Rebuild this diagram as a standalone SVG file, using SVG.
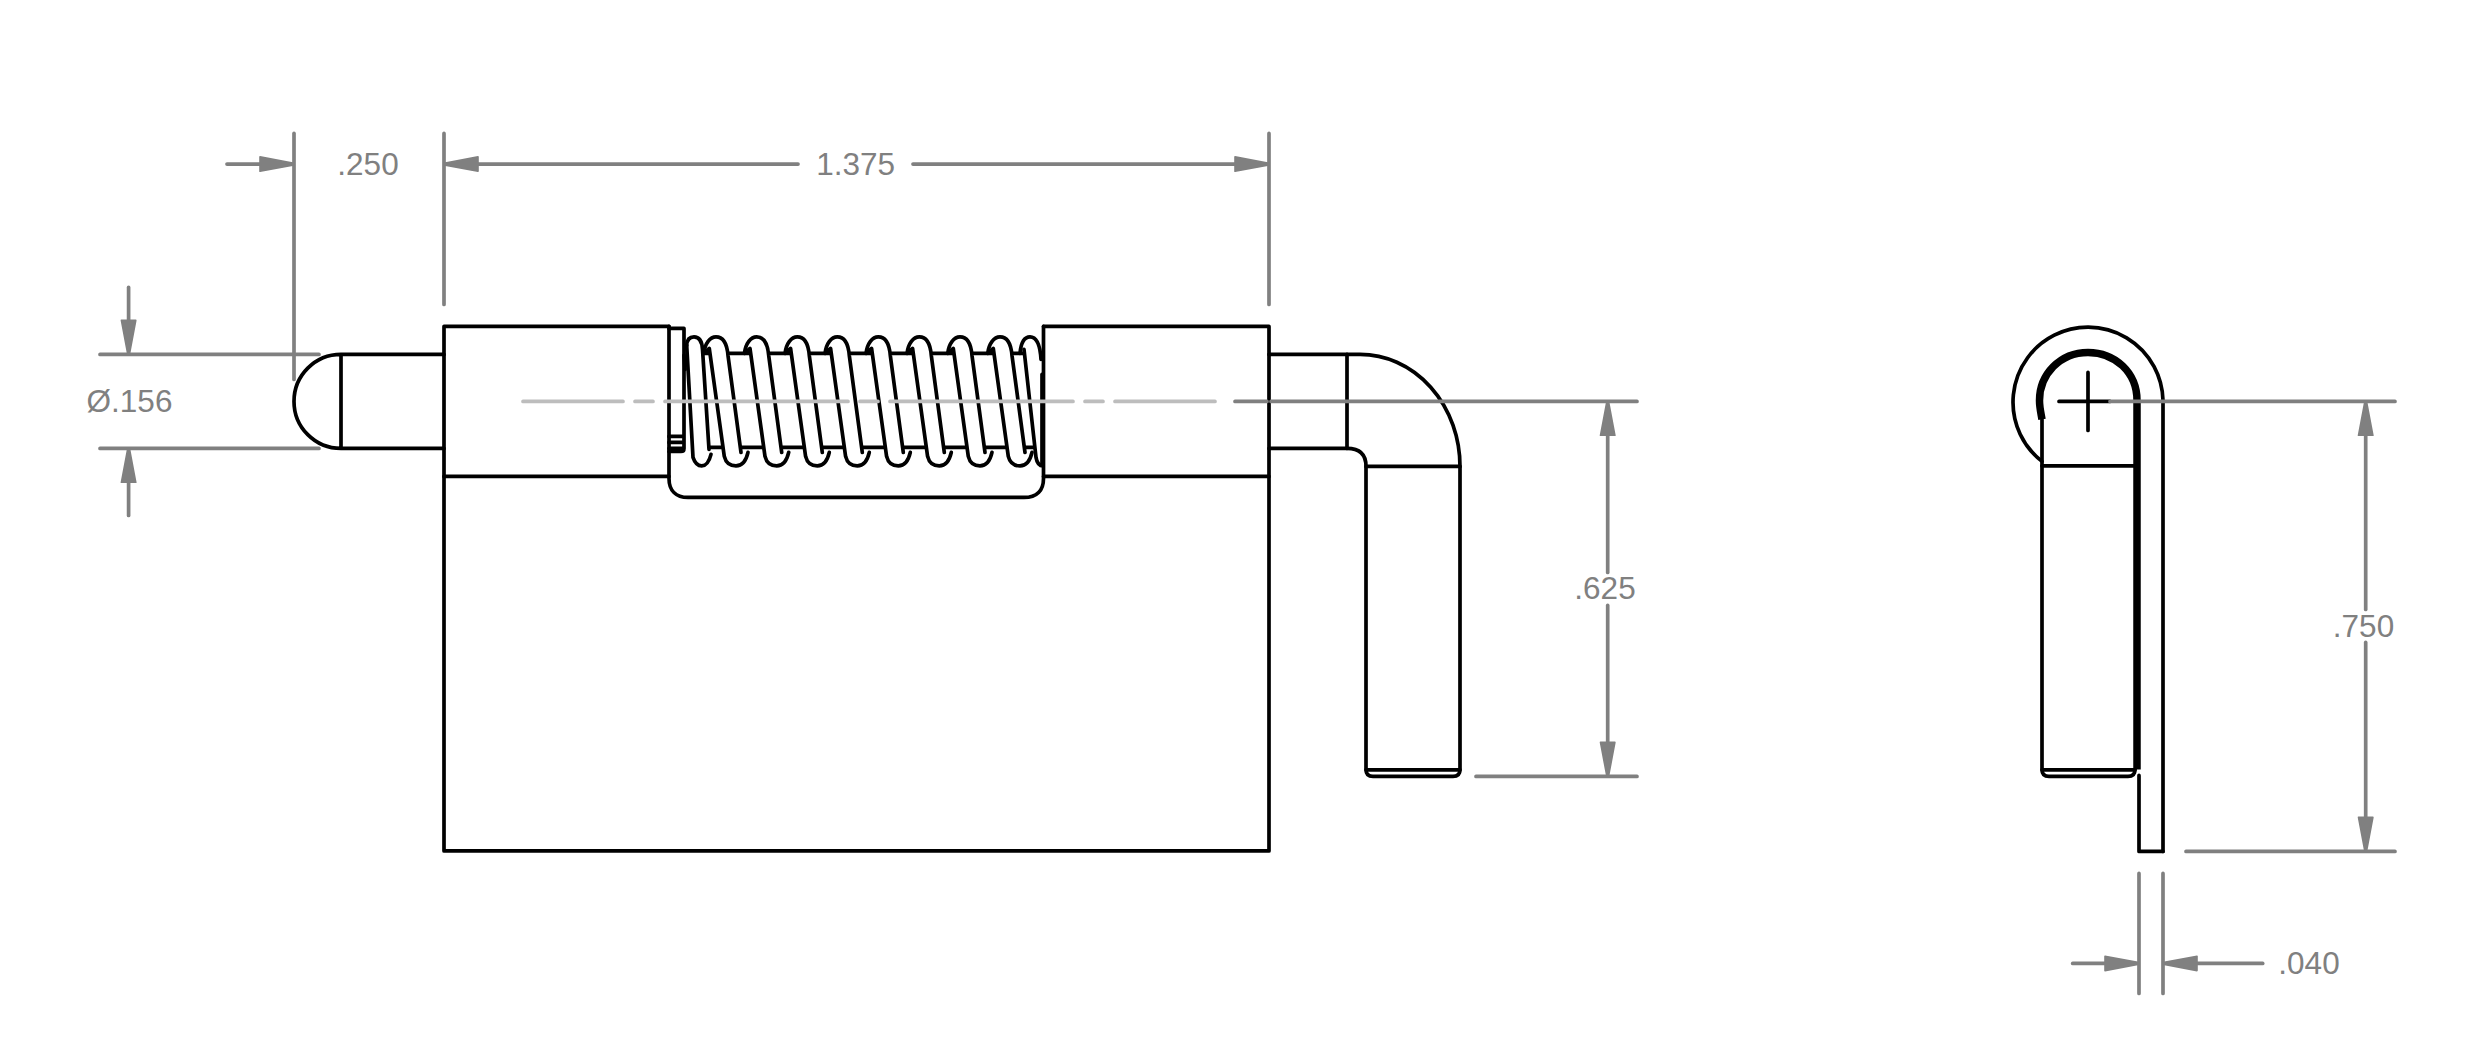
<svg xmlns="http://www.w3.org/2000/svg" width="2473" height="1040" viewBox="0 0 2473 1040">
<style>
.k{fill:none;stroke:#000;stroke-width:3.7;stroke-linejoin:round;stroke-linecap:round}
.w{fill:#fff;stroke:none}
.d{fill:none;stroke:#808080;stroke-width:3.7;stroke-linecap:round}
.a{marker-end:url(#arrow)}
.c{fill:none;stroke:#bdbdbd;stroke-width:3.7;stroke-linecap:round}
text{font-family:"Liberation Sans",Arial,sans-serif;font-size:31.5px;fill:#808080;text-anchor:middle}
</style>
<defs>
<marker id="arrow" markerUnits="userSpaceOnUse" markerWidth="40" markerHeight="20" viewBox="-1 -9 40 18" refX="14" refY="0" orient="auto">
<path d="M0,-7.2 L34,-0.8 L34,0.8 L0,7.2 Z" fill="#808080" stroke="#808080" stroke-width="1.6" stroke-linejoin="round"/>
</marker>
<g id="coil">
<path class="w" d="M-12.3,354 C-11,344 -6,337.5 0,337.5 C7,337.5 11,344 12,356 L25,453 L8.3,457 L-6.7,350 Z"/>
<path class="k" d="M-12.3,354 C-11,344 -6,337.5 0,337.5 C7,337.5 11,344 12,356 L25,453"/>
<path class="k" d="M-10,352 L-6.7,349 L8.3,457 C10,464 15,466.5 20,466.5 C26,466.5 30,462 32,453"/>
</g>
</defs>
<rect width="2473" height="1040" fill="#fff"/>
<g transform="translate(0,-0.6)">
<g id="front-view">
<g id="body">
<path class="k" d="M669,327 H444 V851.5 H1269 V327 H1043.5"/>
<path class="k" d="M444,477 H669 M1043.5,477 H1269"/>
<path class="k" d="M669,327 V479 C669,491 676,498 688,498 H1024 C1037,498 1043.5,491 1043.5,479 V327"/>
</g>
<g id="pin-left">
<path class="k" d="M341,355 A47,47 0 0 0 341,449 Z M341,355 H444 M341,449 H444"/>
</g>
<g id="pin-right">
<path class="k" d="M1269,355 H1360 A100,112 0 0 1 1460,467 V770 Q1460,777 1453,777 H1373 Q1366,777 1366,770 V467 Q1366,449 1347,449 H1269"/>
<path class="k" d="M1347,355 V449 M1366,467 H1460 M1366,770.5 H1460"/>
</g>
<g id="spring">
<path class="k" d="M700,354 H1042 M703,448 H1042"/>
<path class="w" d="M686.7,346 C687,340 690,337.5 694,337.5 C699,337.5 702,341 702.5,350 L709,450 L693,458 Z"/>
<path class="k" d="M686.7,346 C687,340 690,337.5 694,337.5 C699,337.5 702,341 702.5,350 L709,450"/>
<path class="k" d="M686.7,346 L693,458 C695,464 698,466.5 701.7,466.5 C706,466.5 709,463 711,455"/>
<use href="#coil" x="716"/>
<use href="#coil" x="756.7"/>
<use href="#coil" x="797.3"/>
<use href="#coil" x="837.3"/>
<use href="#coil" x="878.3"/>
<use href="#coil" x="919.3"/>
<use href="#coil" x="960"/>
<use href="#coil" x="1000"/>
<path class="w" d="M1020,354 C1021,343 1025,337.5 1030,337.5 C1036,337.5 1040,343 1041,360 V466 H1038 L1024,350 Z"/>
<path class="k" d="M1020,354 C1021,343 1025,337.5 1030,337.5 C1036,337.5 1040,343 1041,360"/>
<path class="k" d="M1024,350 L1036,458 C1037,464 1039,466.5 1043,466.5"/>
<path class="k" d="M1042,375 V465"/>
</g>
<g id="washer">
<path class="k" d="M669,329 H684 V449 Q684,452 681,452 H669 M669,437 H684 M669,443 H684 M669,449 H684"/>
<path class="k" d="M684,356 L685,370"/>
</g>
</g>
<g id="side-view">
<path class="k" d="M2163,852 V401 A75,75 0 1 0 2042,462"/>
<path class="k" d="M2139,776 V852 H2163"/>
<path class="k" d="M2042,420 V770 Q2042,777 2049,777 H2128 Q2135,777 2135,770"/>
<path class="k" d="M2042,466.5 H2134 M2042,770.5 H2135"/>
<path fill="none" stroke="#000" stroke-width="7.5" d="M2137,770 V401 C2137,373 2115,353 2088,353 C2060,353 2039.5,375 2039.5,401 C2039.5,408 2041,414 2042,420"/>
<path class="k" d="M2059,402 H2110 M2088,373 V431"/>
</g>
<g id="centerline">
<path class="c" d="M523,402 H623 M635,402 H653 M665,402 H848 M860,402 H878 M890,402 H1073 M1085,402 H1103 M1115,402 H1215"/>
</g>
<g id="dimensions">
<g id="dim-250">
<path class="d" d="M294,134 V380"/>
<path class="d a" d="M227,164.7 H274"/>
<text x="368" y="175.5">.250</text>
</g>
<g id="dim-1375">
<path class="d" d="M444,134 V305 M1269,134 V305"/>
<path class="d a" d="M798,164.7 H464"/>
<path class="d a" d="M913,164.7 H1249"/>
<text x="855.6" y="175.5">1.375</text>
</g>
<g id="dim-156">
<path class="d" d="M100,355 H319 M100,449 H319"/>
<path class="d a" d="M128.6,288 V335"/>
<path class="d a" d="M128.6,516 V469"/>
<text x="129.5" y="412.5">Ø.156</text>
</g>
<g id="dim-625">
<path class="d" d="M1235,402 H1267 M1271,402 H1637 M1476,777 H1637"/>
<path class="d a" d="M1607.7,573 V422"/>
<path class="d a" d="M1607.7,606 V757"/>
<text x="1605" y="600">.625</text>
</g>
<g id="dim-750">
<path class="d" d="M2110,402 H2395 M2186,852 H2395"/>
<path class="d a" d="M2365.7,610 V422"/>
<path class="d a" d="M2365.7,643 V832"/>
<text x="2363.5" y="638">.750</text>
</g>
<g id="dim-040">
<path class="d" d="M2139,874 V994 M2163,874 V994"/>
<path class="d a" d="M2072.7,964 H2119"/>
<path class="d a" d="M2262.7,964 H2183"/>
<text x="2309" y="975">.040</text>
</g>
</g>
</g>
</svg>
